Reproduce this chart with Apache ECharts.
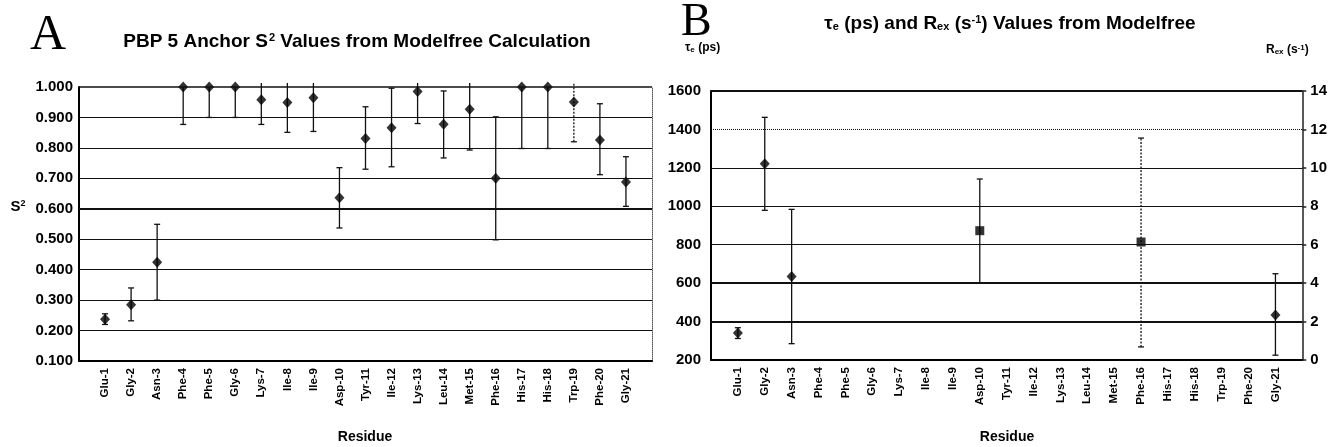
<!DOCTYPE html>
<html>
<head>
<meta charset="utf-8">
<script src="https://cdn.jsdelivr.net/npm/echarts@6/dist/echarts.min.js"></script>
<style>
html,body{margin:0;padding:0;background:#fff;}
#chart{width:1330px;height:447px;}
</style>
</head>
<body>
<div id="chart"></div>
<script>
// ---------- DATA ----------
const residues = ['Glu-1','Gly-2','Asn-3','Phe-4','Phe-5','Gly-6','Lys-7','Ile-8','Ile-9','Asp-10','Tyr-11','Ile-12','Lys-13','Leu-14','Met-15','Phe-16','His-17','His-18','Trp-19','Phe-20','Gly-21'];

// Panel A: S2 order parameters with lower / upper error limits
const s2Values = [0.237,0.285,0.424,1.000,1.000,1.000,0.958,0.949,0.965,0.636,0.831,0.866,0.985,0.878,0.927,0.700,1.000,1.000,0.951,0.826,0.688];
const s2Low    = [0.220,0.232,0.300,0.877,0.900,0.900,0.877,0.851,0.854,0.537,0.730,0.738,0.880,0.767,0.793,0.498,0.798,0.798,0.820,0.712,0.608];
const s2High   = [0.255,0.340,0.549,1.000,1.000,1.000,1.020,1.020,1.020,0.735,0.935,0.996,1.020,0.987,1.020,0.902,1.000,1.000,1.020,0.945,0.771];

// Panel B: tau_e (ps), left axis
const teResidues = ['Glu-1','Gly-2','Asn-3','Gly-21'];
const teValues   = [340,1222,635,434];
const teLow      = [312,979,285,225];
const teHigh     = [368,1463,984,649];

// Panel B: Rex (s^-1), right axis
const rexResidues = ['Asp-10','Phe-16'];
const rexValues   = [6.73,6.14];
const rexLow      = [4.00,0.68];
const rexHigh     = [9.42,11.55];

// Axis tick settings
const s2Ticks  = [0.1,0.2,0.3,0.4,0.5,0.6,0.7,0.8,0.9,1.0];
const teTicks  = [200,400,600,800,1000,1200,1400,1600];
const rexTicks = [0,2,4,6,8,10,12,14];

// ---------- STYLE ----------
const SANS = '"Liberation Sans", Arial, sans-serif';
const SERIF = '"Liberation Serif", "Times New Roman", serif';
const padCats = [''].concat(residues).concat([' ']);
const dashedA = ['Trp-19'];
const dashedB = ['Phe-16'];

function errorRenderer(axisMaxFn, dashedList) {
  return function (params, api) {
    const cat = api.value(0);
    const lo = api.value(1), hi = api.value(2);
    const cs = params.coordSys;
    const max = axisMaxFn();
    const pLo = api.coord([cat, lo]);
    let pHi = api.coord([cat, Math.min(hi, max)]);
    let topCap = true;
    if (hi > max) { pHi = [pHi[0], cs.y - 4]; topCap = false; }
    if (hi === max) topCap = false;
    const name = padCats[cat] !== undefined ? padCats[cat] : cat;
    const dashed = dashedList.indexOf(name) >= 0;
    const st = {stroke:'#111', lineWidth:1.3, lineDash: dashed ? [2,1.5] : null};
    const cw = 3;
    const children = [{type:'line', shape:{x1:pLo[0],y1:pLo[1],x2:pHi[0],y2:pHi[1]}, style:st}];
    children.push({type:'line', shape:{x1:pLo[0]-cw,y1:pLo[1],x2:pLo[0]+cw,y2:pLo[1]}, style:{stroke:'#111',lineWidth:1.3}});
    if (topCap && pHi[1] < pLo[1] - 1) children.push({type:'line', shape:{x1:pHi[0]-cw,y1:pHi[1],x2:pHi[0]+cw,y2:pHi[1]}, style:{stroke:'#111',lineWidth:1.3}});
    return {type:'group', children};
  };
}

const errA = residues.map((r,i)=>[padCats.indexOf(r), s2Low[i], s2High[i]]);
const errTe = teResidues.map((r,i)=>[padCats.indexOf(r), teLow[i], teHigh[i]]);
const errRex = rexResidues.map((r,i)=>[padCats.indexOf(r), rexLow[i], rexHigh[i]]);

function gridLines(ticks, special) {
  return ticks.map(v => {
    const s = special[v] || {width:1.2, type:'solid'};
    return {yAxis: v, lineStyle:{color:'#111', width:s.width, type:s.type}};
  });
}

const tickLabel = {fontFamily:SANS, fontWeight:'bold', fontSize:15, color:'#000'};
const catLabel = {fontFamily:SANS, fontWeight:'bold', fontSize:11.5, color:'#000', rotate:90, margin:7, interval:0};

const chart = echarts.init(document.getElementById('chart'), null, {renderer:'canvas'});
const option = {
  animation:false,
  backgroundColor:'#fff',
  grid:[
    {left:79, top:87, width:573, height:274},
    {left:711, top:91, width:592, height:269}
  ],
  xAxis:[
    {type:'category', gridIndex:0, data:padCats, boundaryGap:false,
     axisLine:{lineStyle:{color:'#000', width:2}}, axisTick:{show:false},
     axisLabel:catLabel, splitLine:{show:false}},
    {type:'category', gridIndex:1, data:padCats, boundaryGap:false,
     axisLine:{lineStyle:{color:'#000', width:2}}, axisTick:{show:false},
     axisLabel:catLabel, splitLine:{show:false}}
  ],
  yAxis:[
    {type:'value', gridIndex:0, min:s2Ticks[0], max:s2Ticks[s2Ticks.length-1], interval:0.1,
     axisLine:{show:true, lineStyle:{color:'#000', width:2}}, axisTick:{show:false},
     axisLabel:Object.assign({margin:6, formatter:v=>v.toFixed(3)}, tickLabel), splitLine:{show:false}},
    {type:'value', gridIndex:0, position:'right', min:s2Ticks[0], max:s2Ticks[s2Ticks.length-1], interval:0.1,
     axisLine:{show:true, lineStyle:{color:'#555', width:1, type:'dotted'}}, axisTick:{show:false},
     axisLabel:{show:false}, splitLine:{show:false}},
    {type:'value', gridIndex:1, min:teTicks[0], max:teTicks[teTicks.length-1], interval:200,
     axisLine:{show:true, lineStyle:{color:'#000', width:2}}, axisTick:{show:false},
     axisLabel:Object.assign({margin:10, formatter:v=>String(v)}, tickLabel), splitLine:{show:false}},
    {type:'value', gridIndex:1, position:'right', min:rexTicks[0], max:rexTicks[rexTicks.length-1], interval:2,
     axisLine:{show:true, lineStyle:{color:'#222', width:1.5}}, axisTick:{show:true, inside:false, length:4, lineStyle:{color:'#222', width:1.5}},
     axisLabel:Object.assign({margin:8, formatter:v=>String(v)}, tickLabel), splitLine:{show:false}}
  ],
  series:[
    {type:'line', xAxisIndex:0, yAxisIndex:0, data:[], silent:true,
     markLine:{silent:true, symbol:['none','none'], label:{show:false},
       data:gridLines(s2Ticks.slice(1), {0.6:{width:2,type:'solid'}, 1.0:{width:1.5,type:'solid'}})}},
    {type:'custom', xAxisIndex:0, yAxisIndex:0, data:errA, z:3,
     renderItem:errorRenderer(()=>s2Ticks[s2Ticks.length-1], dashedA)},
    {type:'scatter', xAxisIndex:0, yAxisIndex:0, symbol:'diamond', symbolSize:[10,11], z:4,
     itemStyle:{color:'#000'}, data:residues.map((r,i)=>[padCats.indexOf(r), s2Values[i]])},
    {type:'line', xAxisIndex:1, yAxisIndex:2, data:[], silent:true,
     markLine:{silent:true, symbol:['none','none'], label:{show:false},
       data:gridLines(teTicks.slice(1), {1600:{width:2,type:'solid'}, 1400:{width:1,type:'dotted'}, 600:{width:2,type:'solid'}, 400:{width:2,type:'solid'}})}},
    {type:'custom', xAxisIndex:1, yAxisIndex:2, data:errTe, z:3,
     renderItem:errorRenderer(()=>teTicks[teTicks.length-1], dashedB)},
    {type:'scatter', xAxisIndex:1, yAxisIndex:2, symbol:'diamond', symbolSize:[10,11], z:4,
     itemStyle:{color:'#000'}, data:teResidues.map((r,i)=>[padCats.indexOf(r), teValues[i]])},
    {type:'custom', xAxisIndex:1, yAxisIndex:3, data:errRex, z:3,
     renderItem:errorRenderer(()=>rexTicks[rexTicks.length-1], dashedB)},
    {type:'scatter', xAxisIndex:1, yAxisIndex:3, symbol:'rect', symbolSize:9, z:4,
     itemStyle:{color:'#000'}, data:rexResidues.map((r,i)=>[padCats.indexOf(r), rexValues[i]])}
  ],
  graphic:[
    {type:'text', x:30, y:36, style:{text:'A', font:'50px '+SERIF, fill:'#000', verticalAlign:'middle'}},
    {type:'text', x:681, y:23, style:{text:'B', font:'46px '+SERIF, fill:'#000', verticalAlign:'middle'}},
    {type:'text', x:357, y:42, style:{
      text:'{t|PBP 5 Anchor S}{sp|2}{t| Values from Modelfree Calculation}',
      align:'center', verticalAlign:'middle',
      rich:{t:{font:'bold 19px '+SANS, fill:'#000'}, sp:{font:'bold 11px '+SANS, fill:'#000', padding:[0,0,9,1]}}}},
    {type:'text', x:1010, y:24, style:{
      text:'{t|τ}{sb|e}{t| (ps) and R}{sb|ex}{t| (s}{sp|-1}{t|) Values from Modelfree}',
      align:'center', verticalAlign:'middle',
      rich:{t:{font:'bold 19px '+SANS, fill:'#000'}, sb:{font:'bold 11px '+SANS, fill:'#000', padding:[6,0,0,0]}, sp:{font:'bold 11px '+SANS, fill:'#000', padding:[0,0,9,0]}}}},
    {type:'text', x:18, y:207, style:{
      text:'{t|S}{sp|2}', align:'center', verticalAlign:'middle',
      rich:{t:{font:'bold 15px '+SANS, fill:'#000'}, sp:{font:'bold 9px '+SANS, fill:'#000', padding:[0,0,7,0]}}}},
    {type:'text', x:685, y:48, style:{
      text:'{t|τ}{sb|e}{t| (ps)}', align:'left', verticalAlign:'middle',
      rich:{t:{font:'bold 12px '+SANS, fill:'#000'}, sb:{font:'bold 8px '+SANS, fill:'#000', padding:[4,0,0,0]}}}},
    {type:'text', x:1266, y:50, style:{
      text:'{t|R}{sb|ex}{t| (s}{sp|-1}{t|)}', align:'left', verticalAlign:'middle',
      rich:{t:{font:'bold 12px '+SANS, fill:'#000'}, sb:{font:'bold 8px '+SANS, fill:'#000', padding:[4,0,0,0]}, sp:{font:'bold 8px '+SANS, fill:'#000', padding:[0,0,5,0]}}}},
    {type:'text', x:365, y:437, style:{text:'Residue', font:'bold 14px '+SANS, fill:'#000', align:'center', verticalAlign:'middle'}},
    {type:'text', x:1007, y:437, style:{text:'Residue', font:'bold 14px '+SANS, fill:'#000', align:'center', verticalAlign:'middle'}}
  ]
};
chart.setOption(option);
</script>
</body>
</html>
